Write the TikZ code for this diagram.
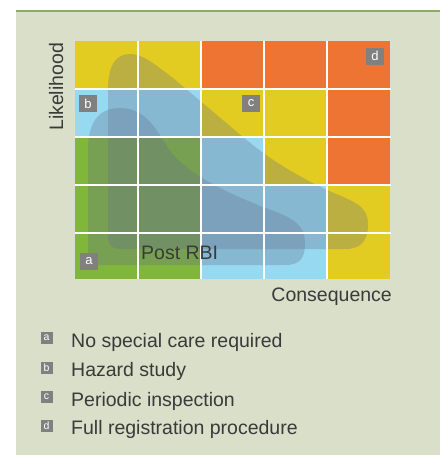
\documentclass[tikz,border=0pt]{standalone}
\usepackage{fontspec}
\setmainfont{Liberation Sans}
\begin{document}
\begin{tikzpicture}[x=1pt,y=-1pt]
\definecolor{panel}{HTML}{D9DFC9}
\definecolor{topline}{HTML}{8CAA6A}
\definecolor{cy}{HTML}{E2CC22}
\definecolor{co}{HTML}{EE7433}
\definecolor{cb}{HTML}{97D9F0}
\definecolor{cg}{HTML}{80B63A}
\definecolor{ov}{RGB}{100,110,140}
\definecolor{tx}{HTML}{3A3A3A}
\definecolor{tag}{HTML}{808080}
\tikzset{
  cell/.style={inner sep=0pt, outer sep=0pt},
  overlay/.style={fill=ov, fill opacity=0.3, draw=none},
  gridline/.style={draw=white, line width=1.4pt},
  bigtag/.style={fill=tag, text=white, minimum width=18pt, minimum height=17pt, inner sep=0pt, font=\fontsize{13}{13}\selectfont},
  smalltag/.style={fill=tag, text=white, minimum width=12pt, minimum height=12pt, inner sep=0pt, font=\fontsize{10.5}{10.5}\selectfont},
  lbl/.style={text=tx, inner sep=0pt, font=\fontsize{19.5}{22}\selectfont},
}
\useasboundingbox (0,0) rectangle (444,455);
\fill[white] (0,0) rectangle (444,455);
\fill[panel] (16,11) rectangle (440,455);
\draw[topline, line width=1.5pt] (16,11) -- (440,11);
% cells
\def\xs{{75,138,201,264,327,390}}
\def\ys{{41,89,137,185,233,279}}
\foreach \r/\row in {0/{cy,cy,co,co,co},1/{cb,cb,cy,cy,co},2/{cg,cg,cb,cy,co},3/{cg,cg,cb,cb,cy},4/{cg,cg,cb,cb,cy}}{
  \foreach \c in {0,1,2,3,4}{
    \pgfmathsetmacro{\xa}{\xs[\c]}
    \pgfmathsetmacro{\xb}{\xs[\c+1]}
    \pgfmathsetmacro{\ya}{\ys[\r]}
    \pgfmathsetmacro{\yb}{\ys[\r+1]}
    \pgfmathtruncatemacro{\idx}{\c}
    \foreach \cc [count=\k from 0] in \row {
      \ifnum\k=\idx \fill[\cc] (\xa,\ya) rectangle (\xb,\yb);\fi
    }
  }
}
% pre-RBI region
\path[overlay] (108,236) -- (108,90)
  .. controls (108,62) and (118,54) .. (130,54)
  .. controls (142,54) and (152,62) .. (173,78)
  -- (243,137)
  .. controls (262,153) and (285,170) .. (327,190)
  .. controls (355,202) and (368,206) .. (368,224)
  .. controls (368,244) and (358,249) .. (345,249)
  -- (120,249) .. controls (112,249) and (108,245) .. (108,236) -- cycle;
% post-RBI region
\path[overlay] (88,252) -- (88,150)
  .. controls (88,118) and (102,108) .. (120,108)
  .. controls (140,108) and (152,120) .. (168,148)
  .. controls (185,172) and (220,190) .. (263,207)
  .. controls (290,217) and (305,222) .. (305,244)
  .. controls (305,260) and (298,265) .. (285,265)
  -- (100,265) .. controls (92,265) and (88,261) .. (88,252) -- cycle;
% grid lines
\foreach \x in {138,201,264,327} \draw[gridline] (\x,41) -- (\x,279);
\foreach \y in {89,137,185,233} \draw[gridline] (75,\y) -- (391,\y);
% tags in chart
\node[bigtag] (ta) at (89,261.5) {a};
\node[bigtag] (tb) at (88,103.5) {b};
\node[bigtag] (tc) at (251,103.5) {c};
\node[bigtag] (td) at (375,56) {d};
% axis labels
\node[lbl, rotate=90, anchor=base west] (like) at (63,131) {Likelihood};
\node[lbl, anchor=base east] (cons) at (392,301) {Consequence};
\node[lbl, anchor=base west] (post) at (141,259) {Post RBI};
% legend
\node[smalltag] (la) at (46.5,338) {a};
\node[lbl, anchor=base west] (lta) at (71,347) {No special care required};
\node[smalltag] (lb) at (46.5,367.5) {b};
\node[lbl, anchor=base west] (ltb) at (71,376.5) {Hazard study};
\node[smalltag] (lc) at (46.5,397) {c};
\node[lbl, anchor=base west] (ltc) at (71,406) {Periodic inspection};
\node[smalltag] (ld) at (46.5,426) {d};
\node[lbl, anchor=base west] (ltd) at (71,434.5) {Full registration procedure};
\end{tikzpicture}
\end{document}
